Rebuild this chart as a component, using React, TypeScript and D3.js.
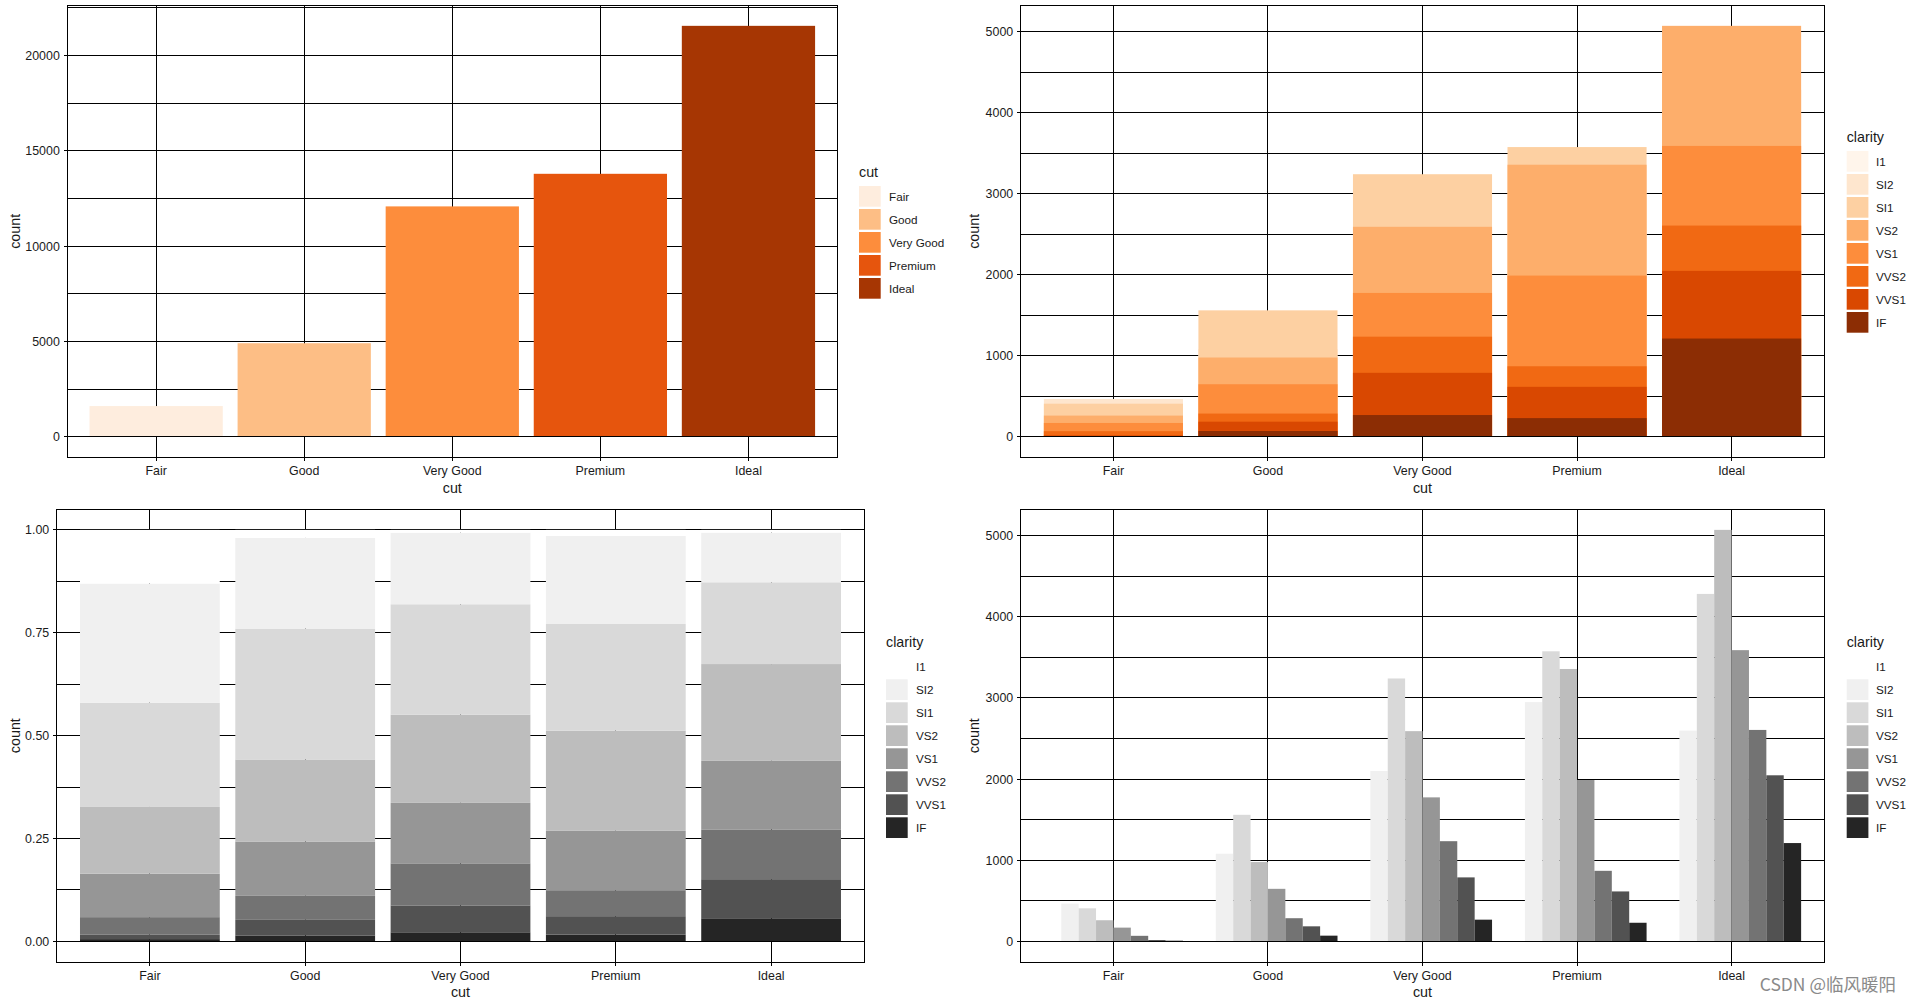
import React from "react";
import * as d3 from "d3";

const cuts = ["Fair", "Good", "Very Good", "Premium", "Ideal"];
const clarities = ["I1", "SI2", "SI1", "VS2", "VS1", "VVS2", "VVS1", "IF"];

// counts per clarity, one value per cut (Fair, Good, Very Good, Premium, Ideal)
const countI1 = [210, 96, 84, 205, 146];
const countSI2 = [466, 1081, 2100, 2949, 2598];
const countSI1 = [408, 1560, 3240, 3575, 4282];
const countVS2 = [261, 978, 2591, 3357, 5071];
const countVS1 = [170, 648, 1775, 1989, 3589];
const countVVS2 = [69, 286, 1235, 870, 2606];
const countVVS1 = [17, 186, 789, 616, 2047];
const countIF = [9, 71, 268, 230, 1212];
const countsByClarity = [countI1, countSI2, countSI1, countVS2, countVS1, countVVS2, countVVS1, countIF];

const cutColors = ["#FEEDDE", "#FDBE85", "#FD8D3C", "#E6550D", "#A63603"];
const clarityOranges = ["#FFF5EB", "#FEE6CE", "#FDD0A2", "#FDAE6B", "#FD8D3C", "#F16913", "#D94801", "#8C2D04"];
const clarityGreys = ["#FFFFFF", "#F0F0F0", "#D9D9D9", "#BDBDBD", "#969696", "#737373", "#525252", "#252525"];

const totalTicks = [0, 5000, 10000, 15000, 20000];
const totalMinor = [2500, 7500, 12500, 17500, 22500];
const countTicks = [0, 1000, 2000, 3000, 4000, 5000];
const countMinor = [500, 1500, 2500, 3500, 4500];
const propTicks = [0, 0.25, 0.5, 0.75, 1.0];
const propMinor = [0.125, 0.375, 0.625, 0.875];

const FONT = "'Liberation Sans', Arial, Helvetica, sans-serif";
const TEXT = "#1a1a1a";

type Bar = { x: number; w: number; v0: number; v1: number; fill: string };

function px(v: number) {
  return Math.floor(v) + 0.5;
}

function Panel(props: {
  x0: number; x1: number; y0: number; y1: number;
  yDomain: [number, number];
  yBreaks: number[]; yMinor: number[];
  fmt: (v: number) => string;
  bars: (xs: d3.ScalePoint<string>, step: number) => Bar[];
  yTitleX: number;
}) {
  const { x0, x1, y0, y1, yDomain, yBreaks, yMinor, fmt, bars, yTitleX } = props;
  const xs = d3.scalePoint<string>().domain(cuts).range([x0, x1]).padding(0.6);
  const step = xs.step();
  const ys = d3.scaleLinear().domain(yDomain).range([y1, y0]);
  const barList = bars(xs, step);
  const base = Math.floor(ys(0));
  return (
    <g>
      <rect x={x0} y={y0} width={x1 - x0} height={y1 - y0} fill="#fff" />
      <g stroke="#000" strokeWidth={1} shapeRendering="crispEdges">
        {yMinor.map((t) => (
          <line key={"mn" + t} x1={x0} x2={x1} y1={px(ys(t))} y2={px(ys(t))} />
        ))}
        {yBreaks.map((t) => (
          <line key={"mj" + t} x1={x0} x2={x1} y1={px(ys(t))} y2={px(ys(t))} />
        ))}
        {cuts.map((c) => (
          <line key={"v" + c} x1={px(xs(c)!)} x2={px(xs(c)!)} y1={y0} y2={y1} />
        ))}
      </g>
      <g>
        {barList.map((b, i) => {
          const top = ys(b.v1);
          const bottom = b.v0 === 0 ? base : ys(b.v0);
          return (
            <rect
              key={i}
              x={b.x}
              width={b.w}
              y={top}
              height={Math.max(0, bottom - top)}
              fill={b.fill}
            />
          );
        })}
      </g>
      <rect
        x={px(x0)}
        y={px(y0)}
        width={Math.floor(x1) - Math.floor(x0)}
        height={Math.floor(y1) - Math.floor(y0)}
        fill="none"
        stroke="#000"
        strokeWidth={1}
        shapeRendering="crispEdges"
      />
      {/* axis ticks */}
      <g stroke="#000" strokeWidth={1} shapeRendering="crispEdges">
        {yBreaks.map((t) => (
          <line key={"yt" + t} x1={x0 - 3.7} x2={x0} y1={px(ys(t))} y2={px(ys(t))} />
        ))}
        {cuts.map((c) => (
          <line key={"xt" + c} x1={px(xs(c)!)} x2={px(xs(c)!)} y1={y1} y2={y1 + 3.7} />
        ))}
      </g>
      <g fontFamily={FONT} fontSize={12.4} fill={TEXT}>
        {yBreaks.map((t) => (
          <text key={"yl" + t} x={x0 - 7.5} y={ys(t)} dy="0.36em" textAnchor="end">
            {fmt(t)}
          </text>
        ))}
        {cuts.map((c) => (
          <text key={"xl" + c} x={xs(c)!} y={y1 + 17.8} textAnchor="middle">
            {c}
          </text>
        ))}
      </g>
      <text
        x={(x0 + x1) / 2}
        y={y1 + 35.3}
        textAnchor="middle"
        fontFamily={FONT}
        fontSize={14.3}
        fill={TEXT}
      >
        cut
      </text>
      <text
        transform={`translate(${yTitleX},${(y0 + y1) / 2}) rotate(-90)`}
        textAnchor="middle"
        fontFamily={FONT}
        fontSize={14.3}
        fill={TEXT}
      >
        count
      </text>
    </g>
  );
}

function Legend(props: { x: number; titleY: number; keyTop: number; title: string; labels: string[]; colors: string[]; labelX: number }) {
  const { x, titleY, keyTop, title, labels, colors, labelX } = props;
  return (
    <g fontFamily={FONT} fill={TEXT}>
      <text x={x} y={titleY} dy="0.36em" fontSize={14.3}>
        {title}
      </text>
      {labels.map((l, i) => (
        <g key={l}>
          <rect x={x} y={keyTop + 23 * i} width={21.7} height={20.7} fill={colors[i]} />
          <text x={labelX} y={keyTop + 23 * i + 10.4} dy="0.36em" fontSize={11.7}>
            {l}
          </text>
        </g>
      ))}
    </g>
  );
}

export default function App() {
  const cutTotals = cuts.map((_, i) => d3.sum(countsByClarity, (a) => a[i]));
  const maxTotal = d3.max(cutTotals)!;
  const maxCount = d3.max(countsByClarity, (a) => d3.max(a)!)!;

  const fmtInt = (v: number) => d3.format("d")(v);
  const fmtProp = (v: number) => d3.format(".2f")(v);

  const barsTotals = (xs: d3.ScalePoint<string>, step: number): Bar[] =>
    cuts.map((c, i) => ({ x: xs(c)! - 0.45 * step, w: 0.9 * step, v0: 0, v1: cutTotals[i], fill: cutColors[i] }));

  const barsIdentity = (xs: d3.ScalePoint<string>, step: number): Bar[] => {
    const out: Bar[] = [];
    cuts.forEach((c, i) => {
      clarities.forEach((_, k) => {
        out.push({ x: xs(c)! - 0.45 * step, w: 0.9 * step, v0: 0, v1: countsByClarity[k][i], fill: clarityOranges[k] });
      });
    });
    return out;
  };

  const barsFill = (xs: d3.ScalePoint<string>, step: number): Bar[] => {
    const out: Bar[] = [];
    cuts.forEach((c, i) => {
      const tot = cutTotals[i];
      let acc = 0;
      for (let k = clarities.length - 1; k >= 0; k--) {
        const v = countsByClarity[k][i] / tot;
        out.push({ x: xs(c)! - 0.45 * step, w: 0.9 * step, v0: acc, v1: acc + v, fill: clarityGreys[k] });
        acc += v;
      }
    });
    return out;
  };

  const barsDodge = (xs: d3.ScalePoint<string>, step: number): Bar[] => {
    const out: Bar[] = [];
    const w = (0.9 * step) / clarities.length;
    cuts.forEach((c, i) => {
      clarities.forEach((_, k) => {
        out.push({ x: xs(c)! - 0.45 * step + k * w, w, v0: 0, v1: countsByClarity[k][i], fill: clarityGreys[k] });
      });
    });
    return out;
  };

  return (
    <svg
      width={1908}
      height={1004}
      style={{ position: "absolute", left: 0, top: 0, background: "#fff" }}
    >
      <rect x={0} y={0} width={1908} height={1004} fill="#fff" />
      <Panel
        x0={67.3} x1={837.3} y0={5.3} y1={457.3}
        yDomain={[-0.05 * maxTotal, 1.05 * maxTotal]}
        yBreaks={totalTicks} yMinor={totalMinor} fmt={fmtInt}
        bars={barsTotals} yTitleX={20}
      />
      <Legend x={859} titleY={172.3} keyTop={186} title="cut" labels={cuts} colors={cutColors} labelX={889} />

      <Panel
        x0={1020.7} x1={1824.3} y0={5.3} y1={457.3}
        yDomain={[-0.05 * maxCount, 1.05 * maxCount]}
        yBreaks={countTicks} yMinor={countMinor} fmt={fmtInt}
        bars={barsIdentity} yTitleX={979}
      />
      <Legend x={1846.7} titleY={136.7} keyTop={151} title="clarity" labels={clarities} colors={clarityOranges} labelX={1876} />

      <Panel
        x0={56.7} x1={864.3} y0={509.3} y1={962}
        yDomain={[-0.05, 1.05]}
        yBreaks={propTicks} yMinor={propMinor} fmt={fmtProp}
        bars={barsFill} yTitleX={20}
      />
      <Legend x={886} titleY={642} keyTop={656.3} title="clarity" labels={clarities} colors={clarityGreys} labelX={916} />

      <Panel
        x0={1020.7} x1={1824.3} y0={509.3} y1={962}
        yDomain={[-0.05 * maxCount, 1.05 * maxCount]}
        yBreaks={countTicks} yMinor={countMinor} fmt={fmtInt}
        bars={barsDodge} yTitleX={979}
      />
      <Legend x={1846.7} titleY={642} keyTop={656.3} title="clarity" labels={clarities} colors={clarityGreys} labelX={1876} />

      <text
        x={1896}
        y={991}
        textAnchor="end"
        fontFamily="'Noto Sans CJK SC', 'Noto Sans', sans-serif"
        fontSize={17.5}
        fill="#8a8a8a"
      >
        CSDN @临风暖阳
      </text>
    </svg>
  );
}
